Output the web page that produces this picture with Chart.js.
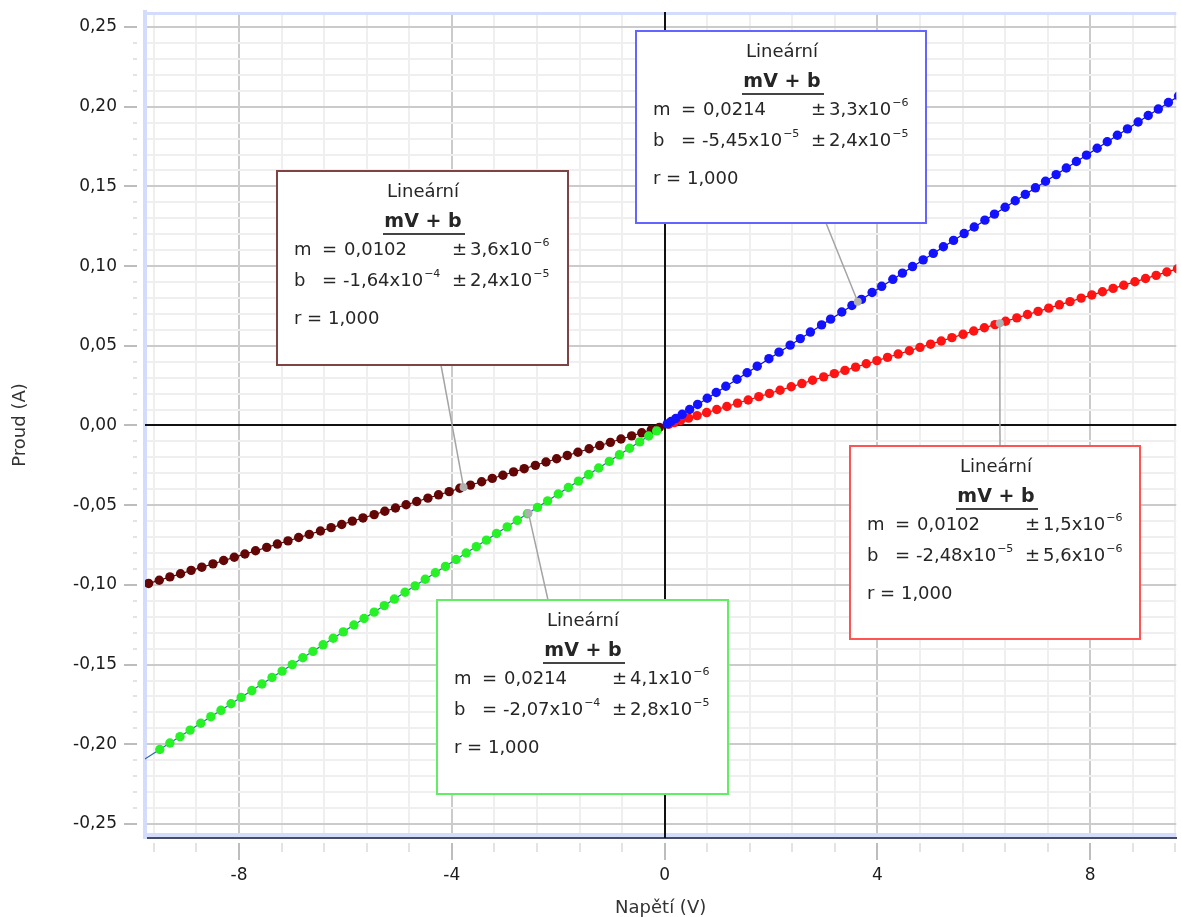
<!DOCTYPE html>
<html>
<head>
<meta charset="utf-8">
<script src="https://cdn.jsdelivr.net/npm/chart.js@4.4.1/dist/chart.umd.min.js"></script>
<style>
  html, body { margin: 0; padding: 0; background: #fff; }
  canvas { display: block; }
</style>
</head>
<body>
<canvas id="chart" width="1181" height="917"></canvas>
<script>
// Napětí (V) / Proud (A) measurements, four runs
const blueV = [0.05, 0.12, 0.21, 0.33, 0.47, 0.62, 0.80, 0.97, 1.15, 1.36, 1.55, 1.74, 1.96, 2.15, 2.36, 2.55, 2.74, 2.95, 3.12, 3.33, 3.52, 3.70, 3.90, 4.08, 4.29, 4.47, 4.66, 4.86, 5.05, 5.24, 5.43, 5.63, 5.82, 6.02, 6.20, 6.40, 6.59, 6.78, 6.97, 7.16, 7.36, 7.55, 7.74, 7.93, 8.13, 8.32, 8.51, 8.70, 8.90, 9.09, 9.28, 9.47, 9.66];
const blueI = [0.0010, 0.0025, 0.0044, 0.0070, 0.0100, 0.0132, 0.0171, 0.0207, 0.0246, 0.0290, 0.0331, 0.0372, 0.0419, 0.0460, 0.0504, 0.0545, 0.0586, 0.0631, 0.0667, 0.0712, 0.0753, 0.0791, 0.0834, 0.0873, 0.0917, 0.0956, 0.0997, 0.1039, 0.1080, 0.1121, 0.1161, 0.1204, 0.1245, 0.1288, 0.1326, 0.1369, 0.1410, 0.1450, 0.1491, 0.1532, 0.1574, 0.1615, 0.1656, 0.1696, 0.1739, 0.1780, 0.1821, 0.1861, 0.1904, 0.1945, 0.1985, 0.2026, 0.2067];

const redV = [0.08, 0.18, 0.30, 0.45, 0.61, 0.79, 0.98, 1.17, 1.37, 1.57, 1.77, 1.97, 2.17, 2.38, 2.58, 2.78, 2.99, 3.19, 3.39, 3.59, 3.79, 3.99, 4.19, 4.39, 4.60, 4.80, 5.00, 5.20, 5.40, 5.61, 5.81, 6.01, 6.21, 6.41, 6.62, 6.82, 7.02, 7.22, 7.42, 7.62, 7.83, 8.03, 8.23, 8.43, 8.63, 8.84, 9.04, 9.24, 9.44, 9.64];
const redI = [0.0008, 0.0018, 0.0031, 0.0046, 0.0062, 0.0081, 0.0100, 0.0119, 0.0140, 0.0160, 0.0181, 0.0201, 0.0221, 0.0243, 0.0263, 0.0284, 0.0305, 0.0325, 0.0346, 0.0366, 0.0387, 0.0407, 0.0427, 0.0448, 0.0469, 0.0490, 0.0510, 0.0530, 0.0551, 0.0572, 0.0593, 0.0613, 0.0633, 0.0654, 0.0675, 0.0696, 0.0716, 0.0736, 0.0757, 0.0777, 0.0799, 0.0819, 0.0839, 0.0860, 0.0880, 0.0902, 0.0922, 0.0942, 0.0963, 0.0983];

const brownV = [-9.70, -9.50, -9.30, -9.10, -8.90, -8.70, -8.49, -8.29, -8.09, -7.89, -7.69, -7.48, -7.28, -7.08, -6.88, -6.68, -6.47, -6.27, -6.07, -5.87, -5.67, -5.46, -5.26, -5.06, -4.86, -4.66, -4.45, -4.25, -4.05, -3.85, -3.65, -3.44, -3.24, -3.04, -2.84, -2.64, -2.43, -2.23, -2.03, -1.83, -1.63, -1.42, -1.22, -1.02, -0.82, -0.62, -0.43, -0.25, -0.10];
const brownI = [-0.0991, -0.0971, -0.0950, -0.0930, -0.0909, -0.0889, -0.0868, -0.0847, -0.0827, -0.0806, -0.0786, -0.0765, -0.0744, -0.0724, -0.0703, -0.0683, -0.0662, -0.0641, -0.0621, -0.0600, -0.0580, -0.0559, -0.0538, -0.0518, -0.0497, -0.0477, -0.0456, -0.0435, -0.0415, -0.0394, -0.0374, -0.0353, -0.0332, -0.0312, -0.0291, -0.0271, -0.0250, -0.0229, -0.0209, -0.0188, -0.0168, -0.0146, -0.0126, -0.0106, -0.0085, -0.0065, -0.0046, -0.0027, -0.0012];

const greenV = [-9.49, -9.30, -9.11, -8.92, -8.72, -8.53, -8.34, -8.15, -7.96, -7.76, -7.57, -7.38, -7.19, -7.00, -6.80, -6.61, -6.42, -6.23, -6.04, -5.84, -5.65, -5.46, -5.27, -5.08, -4.88, -4.69, -4.50, -4.31, -4.12, -3.92, -3.73, -3.54, -3.35, -3.16, -2.96, -2.77, -2.58, -2.39, -2.20, -2.00, -1.81, -1.62, -1.43, -1.24, -1.04, -0.85, -0.66, -0.47, -0.30, -0.15];
const greenI = [-0.2033, -0.1992, -0.1952, -0.1911, -0.1868, -0.1827, -0.1787, -0.1746, -0.1706, -0.1663, -0.1622, -0.1581, -0.1541, -0.1500, -0.1457, -0.1417, -0.1376, -0.1335, -0.1295, -0.1252, -0.1211, -0.1171, -0.1130, -0.1089, -0.1046, -0.1006, -0.0965, -0.0924, -0.0884, -0.0841, -0.0800, -0.0760, -0.0719, -0.0678, -0.0636, -0.0595, -0.0554, -0.0514, -0.0473, -0.0430, -0.0389, -0.0349, -0.0308, -0.0267, -0.0225, -0.0184, -0.0143, -0.0103, -0.0066, -0.0034];

// fitted lines (end points)
const fitBlueV = [0, 9.62], fitBlueI = [-0.0001, 0.2058];
const fitRedV = [0, 9.62], fitRedI = [0.0000, 0.0981];
const fitBrownV = [-9.77, 0], fitBrownI = [-0.0998, -0.0002];
const fitGreenV = [-9.77, 0], fitGreenI = [-0.2093, -0.0002];

// fit results shown in the boxes
const fitLabels = [
  { box: [636, 31, 290, 192], color: '#6464ff', m: '0,0214', mErr: ['3,3', '\u22126'], b: ['-5,45', '\u22125'], bErr: ['2,4', '\u22125'], from: [826, 223], at: [3.63, 0.0776] },
  { box: [277, 171, 291, 194], color: '#7e4444', m: '0,0102', mErr: ['3,6', '\u22126'], b: ['-1,64', '\u22124'], bErr: ['2,4', '\u22125'], from: [441, 365], at: [-3.78, -0.0387] },
  { box: [850, 446, 290, 193], color: '#ff5454', m: '0,0102', mErr: ['1,5', '\u22126'], b: ['-2,48', '\u22125'], bErr: ['5,6', '\u22126'], from: [1000, 446], at: [6.30, 0.0641] },
  { box: [437, 600, 291, 194], color: '#62ee62', m: '0,0214', mErr: ['4,1', '\u22126'], b: ['-2,07', '\u22124'], bErr: ['2,8', '\u22125'], from: [548, 600], at: [-2.56, -0.0550] }
];

function pts(xs, ys) { return xs.map((x, i) => ({ x: x, y: ys[i] })); }
function isMult(v, step) { const q = v / step; return Math.abs(q - Math.round(q)) < 1e-6; }

const FONT = '"DejaVu Sans", Verdana, sans-serif';

function sci(ctx, x, y, mant, exp) {
  ctx.font = '18px ' + FONT;
  ctx.fillText(mant + 'x10', x, y);
  const w = ctx.measureText(mant + 'x10').width;
  ctx.font = '11px ' + FONT;
  ctx.fillText(exp, x + w + 1, y - 7);
}

const decorPlugin = {
  id: 'decor',
  beforeDatasetsDraw(chart) {
    const { ctx, chartArea: a, scales: { x, y } } = chart;
    ctx.save();
    ctx.fillStyle = '#d4dcfc';
    ctx.fillRect(a.left, a.top, a.right - a.left, 3);
    ctx.fillRect(a.left, a.bottom - 5, a.right - a.left, 4);
    const x0 = Math.round(x.getPixelForValue(0));
    const y0 = Math.round(y.getPixelForValue(0));
    ctx.strokeStyle = '#111';
    ctx.lineWidth = 2;
    ctx.beginPath();
    ctx.moveTo(x0, a.top); ctx.lineTo(x0, a.bottom);
    ctx.moveTo(a.left, y0); ctx.lineTo(a.right, y0);
    ctx.stroke();
    ctx.restore();
  },
  afterDatasetsDraw(chart) {
    const { ctx, scales: { x, y } } = chart;
    ctx.save();
    fitLabels.forEach(f => {
      const px = x.getPixelForValue(f.at[0]);
      const py = y.getPixelForValue(f.at[1]);
      ctx.strokeStyle = '#a4a4a4';
      ctx.lineWidth = 1.5;
      ctx.beginPath();
      ctx.moveTo(f.from[0], f.from[1]);
      ctx.lineTo(px, py);
      ctx.stroke();
      ctx.fillStyle = '#b0b0b0';
      ctx.beginPath();
      ctx.arc(px, py, 4, 0, Math.PI * 2);
      ctx.fill();

      const [bx, by, bw, bh] = f.box;
      ctx.fillStyle = '#fff';
      ctx.fillRect(bx, by, bw, bh);
      ctx.strokeStyle = f.color;
      ctx.lineWidth = 2;
      ctx.strokeRect(bx, by, bw, bh);

      ctx.fillStyle = '#262626';
      ctx.textBaseline = 'middle';
      ctx.textAlign = 'center';
      ctx.font = '18px ' + FONT;
      ctx.fillText('Lineární', bx + 146, by + 21);
      ctx.font = 'bold 19px ' + FONT;
      ctx.fillText('mV + b', bx + 146, by + 51);
      ctx.strokeStyle = '#444';
      ctx.lineWidth = 2;
      ctx.beginPath();
      ctx.moveTo(bx + 106, by + 63);
      ctx.lineTo(bx + 188, by + 63);
      ctx.stroke();

      ctx.textAlign = 'left';
      ctx.font = '18px ' + FONT;
      ctx.fillText('m', bx + 17, by + 79);
      ctx.fillText('=', bx + 45, by + 79);
      ctx.fillText(f.m, bx + 67, by + 79);
      ctx.fillText('±', bx + 175, by + 79);
      sci(ctx, bx + 193, by + 79, f.mErr[0], f.mErr[1]);

      ctx.font = '18px ' + FONT;
      ctx.fillText('b', bx + 17, by + 110);
      ctx.fillText('=', bx + 45, by + 110);
      sci(ctx, bx + 66, by + 110, f.b[0], f.b[1]);
      ctx.font = '18px ' + FONT;
      ctx.fillText('±', bx + 175, by + 110);
      sci(ctx, bx + 193, by + 110, f.bErr[0], f.bErr[1]);

      ctx.font = '18px ' + FONT;
      ctx.fillText('r = 1,000', bx + 17, by + 148);
    });
    ctx.restore();
  },
  afterDraw(chart) {
    const { ctx, chartArea: a, scales: { x, y } } = chart;
    ctx.save();
    ctx.lineWidth = 2;
    x.ticks.forEach(t => {
      const px = Math.round(x.getPixelForValue(t.value));
      const major = isMult(t.value, 4);
      ctx.strokeStyle = major ? '#bdbdbd' : '#e3e3e3';
      ctx.beginPath();
      ctx.moveTo(px, a.bottom + 5);
      ctx.lineTo(px, a.bottom + (major ? 22 : 14));
      ctx.stroke();
    });
    y.ticks.forEach(t => {
      const py = Math.round(y.getPixelForValue(t.value));
      const major = isMult(t.value, 0.05);
      ctx.strokeStyle = major ? '#bdbdbd' : '#e3e3e3';
      ctx.beginPath();
      ctx.moveTo(a.left - 8, py);
      ctx.lineTo(a.left - (major ? 21 : 12), py);
      ctx.stroke();
    });
    ctx.restore();
  }
};

const pointSet = (data, color) => ({
  data: data, showLine: false, pointRadius: 4.7, pointHoverRadius: 4.7,
  pointBackgroundColor: color, pointBorderWidth: 0, borderColor: color
});
const fitSet = (data, color) => ({
  data: data, showLine: true, pointRadius: 0, borderColor: color, borderWidth: 1.2, fill: false
});

new Chart(document.getElementById('chart').getContext('2d'), {
  type: 'scatter',
  data: {
    datasets: [
      pointSet(pts(blueV, blueI), '#1212ff'),
      pointSet(pts(redV, redI), '#ff1414'),
      pointSet(pts(greenV, greenI), '#26f226'),
      pointSet(pts(brownV, brownI), '#640606'),
      fitSet(pts(fitBlueV, fitBlueI), '#0a0ad0'),
      fitSet(pts(fitRedV, fitRedI), '#d00000'),
      fitSet(pts(fitGreenV, fitGreenI), '#3064b0'),
      fitSet(pts(fitBrownV, fitBrownI), '#4a0000')
    ]
  },
  options: {
    responsive: false,
    animation: false,
    devicePixelRatio: 1,
    layout: { padding: { top: 12, left: 0, right: 0, bottom: 0 } },
    plugins: { legend: { display: false }, tooltip: { enabled: false } },
    scales: {
      x: {
        type: 'linear',
        min: -9.768,
        max: 9.618,
        afterFit: s => { s.height = 79; },
        border: { color: '#464b68', width: 2 },
        grid: {
          color: c => isMult(c.tick.value, 4) ? '#cbcbcb' : '#efefef',
          lineWidth: 2,
          drawTicks: true,
          tickLength: 27,
          tickColor: 'rgba(0,0,0,0)'
        },
        ticks: {
          stepSize: 0.8,
          includeBounds: false,
          autoSkip: false,
          maxRotation: 0,
          padding: 0,
          color: '#1c1c1c',
          font: { family: FONT, size: 17 },
          callback: v => isMult(v, 4) ? String(Math.round(v)) : ''
        },
        title: {
          display: true,
          text: 'Napětí (V)',
          color: '#333',
          font: { family: FONT, size: 18, lineHeight: 1 },
          padding: { top: 0, bottom: 0 }
        }
      },
      y: {
        type: 'linear',
        min: -0.2588,
        max: 0.2594,
        afterFit: s => { s.width = 145; },
        border: { color: '#d4dcfc', width: 4 },
        grid: {
          color: c => isMult(c.tick.value, 0.05) ? '#cbcbcb' : '#efefef',
          lineWidth: 2,
          drawTicks: true,
          tickLength: 28,
          tickColor: 'rgba(0,0,0,0)'
        },
        ticks: {
          stepSize: 0.01,
          includeBounds: false,
          autoSkip: false,
          padding: 0,
          color: '#1c1c1c',
          font: { family: FONT, size: 17 },
          callback: v => {
            if (!isMult(v, 0.05)) return '';
            const r = Math.round(v * 100) / 100;
            return (Math.abs(r) < 1e-9 ? 0 : r).toFixed(2).replace('.', ',');
          }
        },
        title: {
          display: true,
          text: 'Proud (A)',
          color: '#333',
          font: { family: FONT, size: 18, lineHeight: 1 },
          padding: { top: 11, bottom: 0 }
        }
      }
    }
  },
  plugins: [decorPlugin]
});
</script>
</body>
</html>
